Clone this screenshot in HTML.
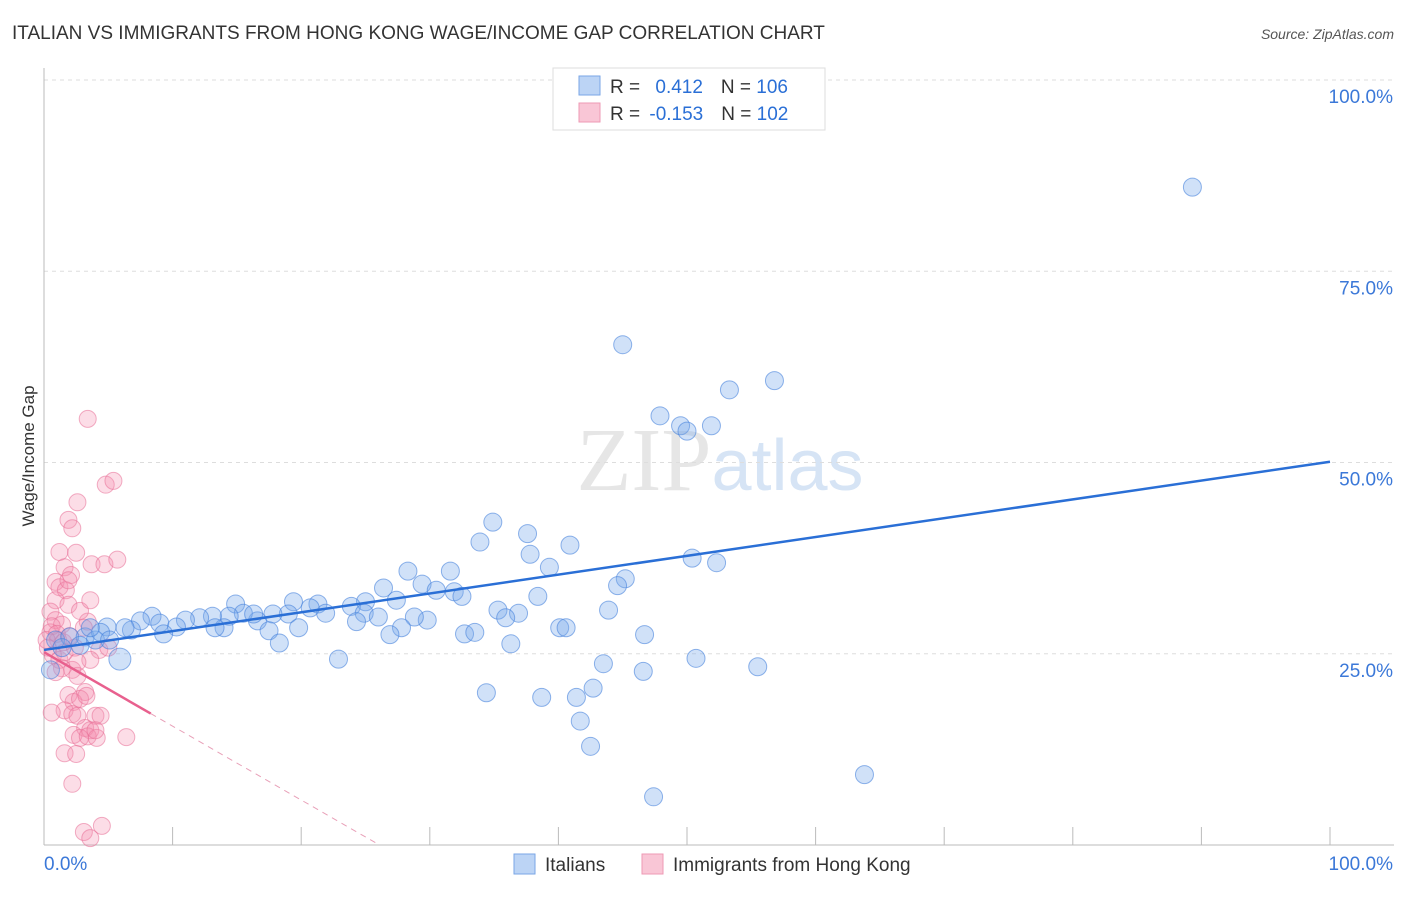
<!DOCTYPE html>
<html><head><meta charset="utf-8"><style>
body{margin:0;background:#fff;font-family:"Liberation Sans",sans-serif}
</style></head><body>
<svg id="chart" width="1406" height="892" xmlns="http://www.w3.org/2000/svg" font-family="Liberation Sans, sans-serif">
<text x="12" y="39" font-size="19" fill="#333">ITALIAN VS IMMIGRANTS FROM HONG KONG WAGE/INCOME GAP CORRELATION CHART</text>
<text x="1394" y="39" font-size="14" fill="#555" text-anchor="end" font-style="italic">Source: ZipAtlas.com</text>
<text x="720" y="490" font-size="90" fill="#e6e6e6" text-anchor="middle" font-family="Liberation Serif, serif">ZIP<tspan fill="#d6e4f5" font-family="Liberation Sans, sans-serif" font-size="72">atlas</tspan></text>
<g id="grid"></g>
<g id="axes"></g>
<g id="pts"></g>
<g id="lines"></g>
<text transform="translate(34,456) rotate(-90)" font-size="17" fill="#333" text-anchor="middle">Wage/Income Gap</text>
<g>
<rect x="553" y="68" width="272" height="62" fill="#fff" stroke="#ddd"/>
<rect x="579" y="76" width="21" height="19" fill="#bcd4f5" stroke="#7aa6e6"/>
<rect x="579" y="103" width="21" height="19" fill="#f9c6d6" stroke="#ee9ab4"/>
<text x="610" y="93" font-size="19" fill="#333">R = <tspan fill="#2a6fd6" dx="10">0.412</tspan><tspan dx="18" fill="#333">N = </tspan><tspan fill="#2a6fd6">106</tspan></text>
<text x="610" y="120" font-size="19" fill="#333">R = <tspan fill="#2a6fd6" dx="4">-0.153</tspan><tspan dx="18" fill="#333">N = </tspan><tspan fill="#2a6fd6">102</tspan></text>
</g>
<g>
<rect x="514" y="854" width="21" height="20" fill="#bcd4f5" stroke="#7aa6e6"/>
<text x="545" y="871" font-size="19" fill="#333">Italians</text>
<rect x="642" y="854" width="21" height="20" fill="#f9c6d6" stroke="#ee9ab4"/>
<text x="673" y="871" font-size="19" fill="#333">Immigrants from Hong Kong</text>
</g>
</svg>
<script>
const blueX=[89.3,45.0,56.8,53.3,47.9,49.5,50.0,51.9,34.9,37.6,33.9,40.9,37.8,50.4,52.3,39.3,28.3,31.6,45.2,44.6,26.4,29.4,30.5,31.9,32.5,38.4,27.4,25.0,23.9,21.3,19.4,14.9,35.3,36.9,43.9,24.9,26.0,29.8,28.8,35.9,21.9,20.7,19.0,17.8,16.6,15.5,16.3,14.4,13.1,12.1,11.0,8.4,7.5,9.0,10.3,14.0,13.3,19.8,24.3,17.5,40.1,40.6,27.8,26.9,32.7,33.5,46.7,9.3,6.8,4.9,18.3,36.3,22.9,50.7,43.5,55.5,46.6,34.4,38.7,41.4,42.7,41.7,42.5,63.8,47.4,5.9,0.9,2.0,3.2,4.0,2.8,1.4,4.4,0.5,5.1,6.3,3.6];
const blueY=[86.0,65.4,60.7,59.5,56.1,54.8,54.1,54.8,42.2,40.7,39.6,39.2,38.0,37.5,36.9,36.3,35.8,35.8,34.8,33.9,33.6,34.1,33.3,33.1,32.5,32.5,32.0,31.8,31.2,31.5,31.8,31.5,30.7,30.3,30.7,30.3,29.8,29.4,29.8,29.7,30.3,31.0,30.2,30.2,29.3,30.3,30.2,29.9,29.9,29.7,29.4,29.9,29.3,29.0,28.5,28.4,28.4,28.4,29.2,28.0,28.4,28.4,28.4,27.5,27.6,27.8,27.5,27.6,28.1,28.5,26.4,26.3,24.3,24.4,23.7,23.3,22.7,19.9,19.3,19.3,20.5,16.2,12.9,9.2,6.3,24.3,26.8,27.2,27.2,26.8,26.1,25.8,27.8,22.9,26.8,28.4,28.4];
const pinkX=[3.4,4.8,5.4,2.6,1.9,2.2,1.2,2.5,3.7,4.7,5.7,1.6,2.1,0.9,1.2,1.7,1.9,0.9,1.9,0.5,0.9,1.4,3.4,3.1,0.5,1.1,0.3,0.7,1.2,1.6,2.4,4.3,5.0,3.6,2.2,1.4,2.6,3.2,1.9,2.3,2.8,3.3,1.6,2.2,0.6,2.6,4.0,4.4,3.2,3.6,2.3,2.8,3.4,4.1,4.0,6.4,1.6,2.5,2.2,3.1,4.5,3.6,0.6,1.0,1.5,2.0,0.2,2.6,0.9,2.8,3.6];
const pinkY=[55.7,47.1,47.6,44.8,42.5,41.4,38.3,38.2,36.7,36.7,37.3,36.3,35.3,34.4,33.7,33.3,34.6,32.0,31.4,30.5,29.4,28.8,29.2,28.4,27.8,26.8,25.8,24.8,24.2,25.2,25.8,25.5,25.8,24.2,22.9,23.1,22.1,20.0,19.6,18.7,19.1,19.5,17.6,17.1,17.3,16.9,16.9,16.9,15.3,15.0,14.4,14.0,14.2,14.0,15.0,14.1,12.0,11.9,8.0,1.7,2.5,0.9,28.6,27.6,26.5,27.3,26.8,23.9,22.6,30.6,32.0];
const blueFit=[25.5,0.246];
const pinkFit=[25.2,-0.966];
const yTicks=[25,50,75,100];
const L=44,R=1330,T=80,B=845;
const sx=v=>L+(R-L)*v/100, sy=v=>B-(B-T)*v/100;
const NS="http://www.w3.org/2000/svg";
function mk(tag,attrs,parent){const e=document.createElementNS(NS,tag);for(const k in attrs)e.setAttribute(k,attrs[k]);parent.appendChild(e);return e;}
const grid=document.getElementById('grid'),axes=document.getElementById('axes'),pts=document.getElementById('pts'),lines=document.getElementById('lines');
yTicks.forEach(t=>{
 const g=mk('line',{x1:L,x2:1394,y1:sy(t),y2:sy(t),stroke:'#ddd','stroke-dasharray':'4,4'},grid);
 
 
 const tx=mk('text',{x:1393,y:sy(t)+23,'font-size':19,fill:'#3b78d8','text-anchor':'end'},axes);
 tx.textContent=t.toFixed(1)+'%';
 
 
});
const ya=mk('line',{x1:L,x2:L,y1:68,y2:B,stroke:'#bbb'},axes);


const xa=mk('line',{x1:L,x2:1394,y1:B,y2:B,stroke:'#bbb'},axes);


for(let i=1;i<=10;i++){
 const tk=mk('line',{x1:sx(i*10),x2:sx(i*10),y1:B-18,y2:B,stroke:'#bbb'},axes);
 
 
}
const x0=mk('text',{x:44,y:870,'font-size':19,fill:'#3b78d8'},axes);x0.textContent='0.0%';


const x1=mk('text',{x:1393,y:870,'font-size':19,fill:'#3b78d8','text-anchor':'end'},axes);x1.textContent='100.0%';


pinkX.forEach((x,i)=>{
 const c=mk('circle',{cx:sx(x),cy:sy(pinkY[i]),r:8.5,fill:'rgba(244,143,177,0.3)',stroke:'rgba(232,110,150,0.55)','stroke-width':1},pts);
 
 
});
blueX.forEach((x,i)=>{
 const c=mk('circle',{cx:sx(x),cy:sy(blueY[i]),r:(i===85?11:9),fill:'rgba(120,170,235,0.35)',stroke:'rgba(70,130,220,0.6)','stroke-width':1},pts);
 
 
});
const bl=mk('line',{x1:sx(0),y1:sy(blueFit[0]),x2:sx(100),y2:sy(blueFit[0]+blueFit[1]*100),stroke:'#2a6fd6','stroke-width':2.5},lines);


const pxEnd=8.3, pxZero=-pinkFit[0]/pinkFit[1];
const pl=mk('line',{x1:sx(0),y1:sy(pinkFit[0]),x2:sx(pxEnd),y2:sy(pinkFit[0]+pinkFit[1]*pxEnd),stroke:'#e8608e','stroke-width':2.5},lines);


const pd=mk('line',{x1:sx(pxEnd),y1:sy(pinkFit[0]+pinkFit[1]*pxEnd),x2:sx(pxZero),y2:sy(0),stroke:'#e8a0b8','stroke-width':1,'stroke-dasharray':'6,5'},lines);


</script>
</body></html>
